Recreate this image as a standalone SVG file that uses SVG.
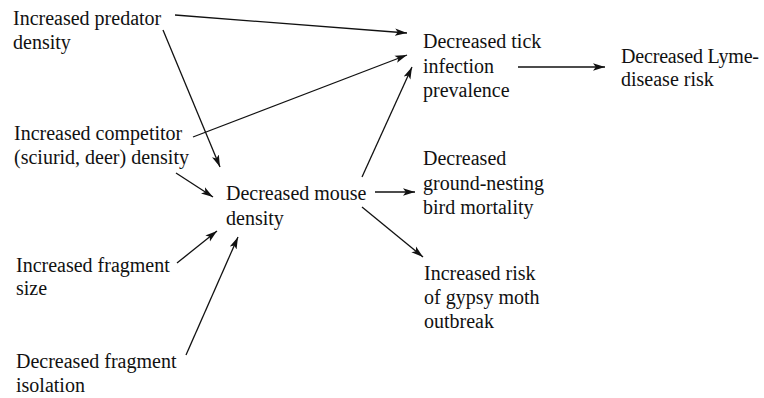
<svg xmlns="http://www.w3.org/2000/svg" width="764" height="398" viewBox="0 0 764 398">
<defs>
<style>
text{font-family:'Liberation Serif','Times New Roman',serif;font-size:20px;fill:#111}
.c line{stroke:#111;stroke-width:1.3;fill:none}
</style>
<marker id="ah" markerUnits="userSpaceOnUse" markerWidth="13" markerHeight="9" refX="12" refY="4.5" orient="auto">
<path d="M0,0.8 L12,4.5 L0,8.2 L2.8,4.5 z" fill="#111"/>
</marker>
</defs>
<rect width="764" height="398" fill="#fff"/>
<g id="predator"><text x="13" y="25">Increased predator</text><text x="13" y="49">density</text></g>
<g id="competitor"><text x="14" y="140">Increased competitor</text><text x="14" y="164">(sciurid, deer) density</text></g>
<g id="mouse"><text x="226" y="200">Decreased mouse</text><text x="226" y="225">density</text></g>
<g id="fragsize"><text x="16" y="272">Increased fragment</text><text x="16" y="295">size</text></g>
<g id="fragiso"><text x="16" y="368">Decreased fragment</text><text x="16" y="392">isolation</text></g>
<g id="tick"><text x="423" y="48">Decreased tick</text><text x="423" y="73">infection</text><text x="423" y="97">prevalence</text></g>
<g id="lyme"><text x="621" y="63" textLength="138" lengthAdjust="spacing">Decreased Lyme-</text><text x="621" y="86">disease risk</text></g>
<g id="bird"><text x="423" y="165">Decreased</text><text x="423" y="190">ground-nesting</text><text x="423" y="214">bird mortality</text></g>
<g id="moth"><text x="424" y="280">Increased risk</text><text x="424" y="304">of gypsy moth</text><text x="424" y="328">outbreak</text></g>
<g id="connectors" class="c">
<line x1="175" y1="15" x2="407" y2="33" marker-end="url(#ah)"/>
<line x1="193" y1="137" x2="407" y2="55" marker-end="url(#ah)"/>
<line x1="163" y1="30" x2="220" y2="167" marker-end="url(#ah)"/>
<line x1="176" y1="173" x2="213" y2="197" marker-end="url(#ah)"/>
<line x1="177" y1="263" x2="217" y2="231" marker-end="url(#ah)"/>
<line x1="186" y1="355" x2="238" y2="237" marker-end="url(#ah)"/>
<line x1="362" y1="177" x2="412" y2="67" marker-end="url(#ah)"/>
<line x1="518" y1="67" x2="605" y2="67" marker-end="url(#ah)"/>
<line x1="375" y1="192" x2="415" y2="192" marker-end="url(#ah)"/>
<line x1="362" y1="207" x2="423" y2="257" marker-end="url(#ah)"/>
</g>
</svg>
